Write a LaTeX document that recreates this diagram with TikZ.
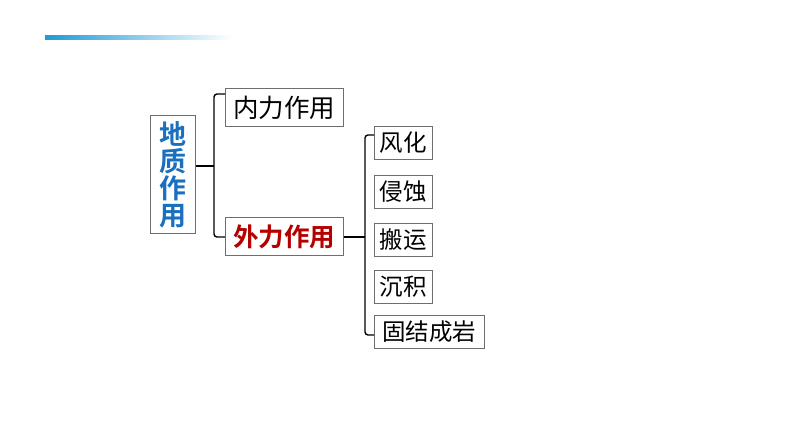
\documentclass[tikz,border=0pt]{standalone}
\usepackage{fontspec}
\newfontfamily\cjk[BoldFont={Noto Sans CJK SC Bold}]{Noto Sans CJK SC}
\definecolor{geoblue}{HTML}{1A6FBE}
\definecolor{geored}{HTML}{B50000}
\definecolor{barblue}{HTML}{1E9AD6}
\definecolor{boxgray}{HTML}{6E6E6E}
\tikzset{
  box/.style={draw=boxgray, line width=0.9pt, inner sep=0pt, anchor=north west, align=center},
  leaf/.style={box, font=\cjk\fontsize{23.5}{26}\selectfont, minimum height=33pt},
  mid/.style={box, font=\cjk\fontsize{25.5}{28}\selectfont, minimum width=118pt, minimum height=38pt},
  link/.style={draw=black, line width=1.4pt, rounded corners=3pt}
}
\begin{document}
\begin{tikzpicture}[x=1pt,y=-1pt]
\useasboundingbox (0,0) rectangle (794,447);
% top gradient bar
\shade[left color=barblue, right color=white] (45,35) rectangle (232,39);
% root
\node[box, minimum width=45pt, minimum height=118pt, text=geoblue,
  font=\cjk\bfseries\fontsize{27}{28}\selectfont] (root) at (150,115)
  {地\\[-1pt]质\\[-1pt]作\\[-1pt]用};
% middle boxes
\node[mid] (nei) at (225,88) {内力作用};
\node[mid, text=geored, font=\cjk\bfseries\fontsize{25.5}{28}\selectfont] (wai) at (225,217) {外力作用};
% leaves
\node[leaf, minimum width=58pt] (fh) at (374,126) {风化};
\node[leaf, minimum width=58pt] (qs) at (374,175) {侵蚀};
\node[leaf, minimum width=58pt] (by) at (374,223) {搬运};
\node[leaf, minimum width=58pt] (cj) at (374,270) {沉积};
\node[leaf, minimum width=110pt] (gj) at (374,315) {固结成岩};
% brace 1
\coordinate (b1t) at (214,94);
\coordinate (b1b) at (214,237);
\coordinate (b1m) at (214,166);
\draw[link] (nei.west |- b1t) -- (b1t) -- (b1b) -- (wai.west |- b1b);
\draw[link] (root.east |- b1m) -- (b1m);
% brace 2
\coordinate (b2t) at (365,135);
\coordinate (b2b) at (365,335);
\coordinate (b2m) at (365,237);
\draw[link] (fh.west |- b2t) -- (b2t) -- (b2b) -- (gj.west |- b2b);
\draw[link] (wai.east |- b2m) -- (b2m);
\end{tikzpicture}
\end{document}
